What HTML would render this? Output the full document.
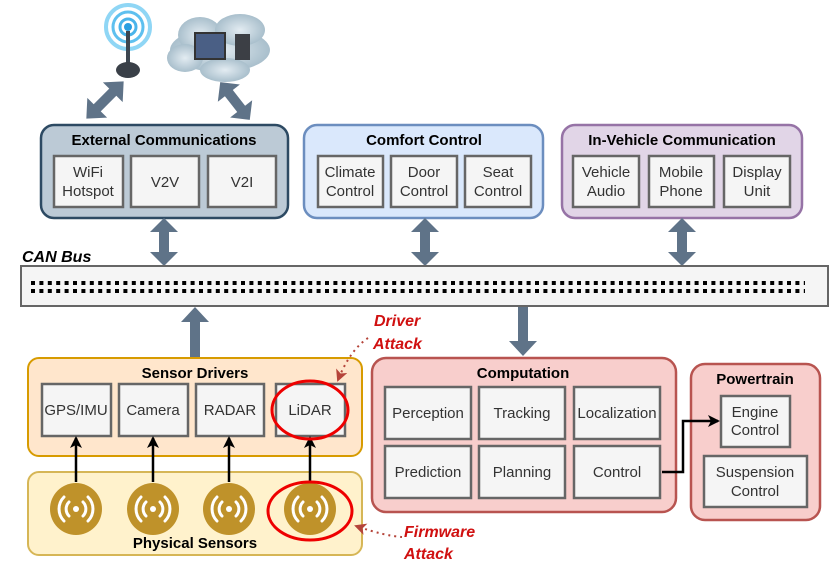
<!DOCTYPE html>
<html><head><meta charset="utf-8"><style>
html,body{margin:0;padding:0;background:#fff}
svg{display:block}
text{font-family:"Liberation Sans",Arial,sans-serif}
</style></head><body>
<svg width="831" height="575" viewBox="0 0 831 575" xmlns="http://www.w3.org/2000/svg">
<defs>
<radialGradient id="cl" cx="50%" cy="50%" r="50%"><stop offset="0" stop-color="#e3ecf2"/><stop offset="1" stop-color="#a9bfcc"/></radialGradient>
<marker id="ah" markerWidth="12" markerHeight="12" refX="10" refY="6" orient="auto" markerUnits="userSpaceOnUse"><path d="M0,0 L12,6 L0,12 L3,6 z" fill="#000"/></marker>
<marker id="rh" markerWidth="12" markerHeight="12" refX="10" refY="6" orient="auto" markerUnits="userSpaceOnUse"><path d="M0,0 L12,6 L0,12 L3,6 z" fill="#b5443a"/></marker>
<g id="dbl"><path d="M0,-24 L14,-10 L5,-10 L5,10 L14,10 L0,24 L-14,10 L-5,10 L-5,-10 L-14,-10 z" fill="#5f7388"/></g>
</defs>

<!-- antenna -->
<circle cx="128" cy="27" r="22" fill="none" stroke="#8fd6f5" stroke-width="4"/>
<circle cx="128" cy="27" r="15" fill="none" stroke="#5ec0ef" stroke-width="3"/>
<circle cx="128" cy="27" r="8" fill="none" stroke="#4ab4ea" stroke-width="3"/>
<circle cx="128" cy="27" r="4" fill="#2a9ee0"/>
<rect x="126" y="31" width="4" height="32" fill="#3d4650"/>
<ellipse cx="128" cy="70" rx="12" ry="8" fill="#3a4048"/>
<!-- cloud -->
<g fill="url(#cl)">
<ellipse cx="220" cy="50" rx="50" ry="22"/>
<ellipse cx="200" cy="35" rx="22" ry="18"/>
<ellipse cx="240" cy="30" rx="25" ry="16"/>
<ellipse cx="185" cy="58" rx="18" ry="14"/>
<ellipse cx="225" cy="70" rx="25" ry="12"/>
</g>
<rect x="195" y="33" width="30" height="26" fill="#4a5f85" stroke="#333" stroke-width="2"/>
<rect x="235" y="34" width="15" height="26" fill="#3c3f45"/>

<!-- diagonal arrows -->
<use href="#dbl" transform="translate(105,100) rotate(45) scale(1,1.1)"/>
<use href="#dbl" transform="translate(235,101) rotate(-38) scale(1,1.0)"/>

<!-- External Communications -->
<rect x="41" y="125" width="247" height="93" rx="13" fill="#bccad6" stroke="#2d4a63" stroke-width="2.5"/>
<text x="164" y="145" font-size="15" font-weight="bold" text-anchor="middle">External Communications</text>
<g fill="#f5f5f5" stroke="#666" stroke-width="2.5">
<rect x="54" y="156" width="69" height="51"/><rect x="131" y="156" width="68" height="51"/><rect x="208" y="156" width="68" height="51"/>
</g>
<g font-size="15" fill="#333" text-anchor="middle">
<text x="88" y="177">WiFi</text><text x="88" y="196">Hotspot</text>
<text x="165" y="187">V2V</text><text x="242" y="187">V2I</text>
</g>

<!-- Comfort -->
<rect x="304" y="125" width="239" height="93" rx="13" fill="#dae8fc" stroke="#6c8ebf" stroke-width="2.5"/>
<g fill="#f5f5f5" stroke="#666" stroke-width="2.5">
<rect x="318" y="156" width="65" height="51"/><rect x="391" y="156" width="66" height="51"/><rect x="465" y="156" width="66" height="51"/></g>
<g font-size="15" fill="#333" text-anchor="middle">
<text x="350" y="177">Climate</text><text x="350" y="196">Control</text>
<text x="424" y="177">Door</text><text x="424" y="196">Control</text>
<text x="498" y="177">Seat</text><text x="498" y="196">Control</text></g>
<text x="424" y="145" font-size="15" font-weight="bold" text-anchor="middle">Comfort Control</text>

<!-- In-Vehicle -->
<rect x="562" y="125" width="240" height="93" rx="13" fill="#e1d5e7" stroke="#9673a6" stroke-width="2.5"/>
<g fill="#f5f5f5" stroke="#666" stroke-width="2.5">
<rect x="573" y="156" width="66" height="51"/><rect x="649" y="156" width="65" height="51"/><rect x="724" y="156" width="66" height="51"/></g>
<g font-size="15" fill="#333" text-anchor="middle">
<text x="606" y="177">Vehicle</text><text x="606" y="196">Audio</text>
<text x="681" y="177">Mobile</text><text x="681" y="196">Phone</text>
<text x="757" y="177">Display</text><text x="757" y="196">Unit</text></g>
<text x="682" y="145" font-size="15" font-weight="bold" text-anchor="middle">In-Vehicle Communication</text>

<!-- vertical double arrows -->
<use href="#dbl" transform="translate(164,242)"/>
<use href="#dbl" transform="translate(425,242)"/>
<use href="#dbl" transform="translate(682,242)"/>

<!-- CAN bus -->
<text x="22" y="262" font-size="16" font-weight="bold" font-style="italic">CAN Bus</text>
<rect x="21" y="266" width="807" height="40" fill="#f5f5f5" stroke="#666" stroke-width="2"/>
<line x1="31" y1="283" x2="805" y2="283" stroke="#000" stroke-width="4" stroke-dasharray="4 4.4"/>
<line x1="31" y1="291" x2="805" y2="291" stroke="#000" stroke-width="4" stroke-dasharray="4 4.4"/>

<!-- up arrow / down arrow -->
<path d="M190,358 L190,322 L181,322 L195,307 L209,322 L200,322 L200,358 z" fill="#5f7388"/>
<path d="M518,307 L528,307 L528,341 L537,341 L523,356 L509,341 L518,341 z" fill="#5f7388"/>

<!-- Sensor drivers -->
<rect x="28" y="358" width="334" height="98" rx="11" fill="#ffe6cc" stroke="#d79b00" stroke-width="2"/>
<text x="195" y="378" font-size="15" font-weight="bold" text-anchor="middle">Sensor Drivers</text>
<g fill="#f5f5f5" stroke="#666" stroke-width="2.5">
<rect x="42" y="384" width="69" height="52"/><rect x="119" y="384" width="69" height="52"/><rect x="196" y="384" width="68" height="52"/><rect x="276" y="384" width="69" height="52"/></g>
<g font-size="15" fill="#333" text-anchor="middle">
<text x="76" y="415">GPS/IMU</text><text x="153" y="415">Camera</text><text x="230" y="415">RADAR</text><text x="310" y="415">LiDAR</text></g>

<!-- Physical sensors -->
<rect x="28" y="472" width="334" height="83" rx="11" fill="#fff2cc" stroke="#d6b656" stroke-width="2"/>
<text x="195" y="548" font-size="15" font-weight="bold" text-anchor="middle">Physical Sensors</text>
<g>
<circle cx="76" cy="509" r="26" fill="#bf922a"/><circle cx="153" cy="509" r="26" fill="#bf922a"/><circle cx="229" cy="509" r="26" fill="#bf922a"/><circle cx="310" cy="509" r="26" fill="#bf922a"/>
</g>
<g fill="none" stroke="#fff" stroke-width="3" stroke-linecap="round">
<g id="w1"><circle cx="76" cy="509" r="3" fill="#fff" stroke="none"/>
<path d="M69,502 A10,10 0 0 0 69,516 M83,502 A10,10 0 0 1 83,516 M64,497 A17,17 0 0 0 64,521 M88,497 A17,17 0 0 1 88,521"/></g>
<use href="#w1" x="77"/><use href="#w1" x="153"/><use href="#w1" x="234"/>
</g>
<g stroke="#000" stroke-width="2.5" marker-end="url(#ah)">
<line x1="76" y1="482" x2="76" y2="438"/><line x1="153" y1="482" x2="153" y2="438"/><line x1="229" y1="482" x2="229" y2="438"/><line x1="310" y1="482" x2="310" y2="438"/></g>

<!-- red ellipses -->
<ellipse cx="310" cy="410" rx="38" ry="29" fill="none" stroke="#e00" stroke-width="3"/>
<ellipse cx="310" cy="511" rx="42" ry="29" fill="none" stroke="#e00" stroke-width="3"/>

<!-- attacks -->
<path d="M368,338 Q350,350 338,380" fill="none" stroke="#b5443a" stroke-width="2" stroke-dasharray="2 4" marker-end="url(#rh)"/>
<path d="M402,537 Q385,536 356,526" fill="none" stroke="#b5443a" stroke-width="2" stroke-dasharray="2 4" marker-end="url(#rh)"/>
<g font-size="16" font-weight="bold" font-style="italic" fill="#d01010">
<text x="374" y="326">Driver</text><text x="373" y="349">Attack</text>
<text x="404" y="537">Firmware</text><text x="404" y="559">Attack</text></g>

<!-- Computation -->
<rect x="372" y="358" width="304" height="154" rx="14" fill="#f8cecc" stroke="#b85450" stroke-width="2.5"/>
<text x="523" y="378" font-size="15" font-weight="bold" text-anchor="middle">Computation</text>
<g fill="#f5f5f5" stroke="#666" stroke-width="2.5">
<rect x="385" y="387" width="86" height="52"/><rect x="479" y="387" width="86" height="52"/><rect x="574" y="387" width="86" height="52"/>
<rect x="385" y="446" width="86" height="52"/><rect x="479" y="446" width="86" height="52"/><rect x="574" y="446" width="86" height="52"/></g>
<g font-size="15" fill="#333" text-anchor="middle">
<text x="428" y="418">Perception</text><text x="522" y="418">Tracking</text><text x="617" y="418">Localization</text>
<text x="428" y="477">Prediction</text><text x="522" y="477">Planning</text><text x="617" y="477">Control</text></g>

<!-- Powertrain -->
<rect x="691" y="364" width="129" height="156" rx="14" fill="#f8cecc" stroke="#b85450" stroke-width="2.5"/>
<text x="755" y="384" font-size="15" font-weight="bold" text-anchor="middle">Powertrain</text>
<g fill="#f5f5f5" stroke="#666" stroke-width="2.5">
<rect x="721" y="396" width="69" height="51"/><rect x="704" y="456" width="103" height="51"/></g>
<g font-size="15" fill="#333" text-anchor="middle">
<text x="755" y="417">Engine</text><text x="755" y="435">Control</text>
<text x="755" y="477">Suspension</text><text x="755" y="496">Control</text></g>
<path d="M662,472 L683,472 L683,421 L718,421" fill="none" stroke="#000" stroke-width="2.5" marker-end="url(#ah)"/>
</svg>
</body></html>
